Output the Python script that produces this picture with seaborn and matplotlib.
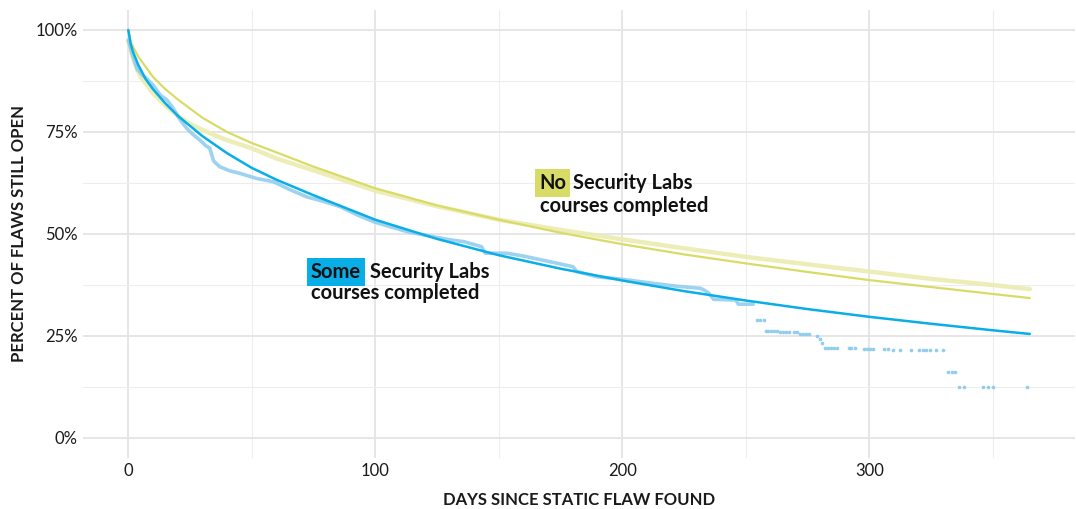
import numpy as np
import pandas as pd
import seaborn as sns
import matplotlib
matplotlib.use("Agg")
import matplotlib.pyplot as plt
from matplotlib.ticker import FixedLocator, FuncFormatter

# ---------------- data ----------------
# Fitted curve, "Some Security Labs courses completed"
some_fit_days = [0, 1, 2, 4, 7, 10, 15, 20, 30, 40, 50, 60, 75, 100, 125, 150,
                 175, 200, 225, 250, 275, 300, 325, 350, 365]
some_fit_pct = [100, 96.5, 94.5, 91.5, 88, 85.5, 82, 79, 74, 69.8, 66.2, 63.3, 59.5,
                53.5, 48.8, 44.8, 41.5, 38.6, 36, 33.7, 31.6, 29.7, 28, 26.4, 25.5]

# Fitted curve, "No Security Labs courses completed"
no_fit_days = [0, 1, 2, 4, 7, 10, 15, 20, 30, 40, 50, 60, 75, 100, 125, 150,
               175, 200, 225, 250, 275, 300, 325, 350, 365]
no_fit_pct = [100, 97, 95.8, 93.5, 91, 88.5, 85.5, 83, 78.5, 75, 72.3, 70, 66.5,
              61.2, 57, 53.5, 50.3, 47.5, 45, 42.8, 40.7, 38.7, 37, 35.3, 34.3]

# Observed share still open, "No" group
no_obs_days = [0, 1, 2, 3.5, 5, 7.5, 10, 15, 20, 25, 30, 35, 40, 50, 60, 78, 100,
               125, 150, 175, 200, 225, 250, 280, 300, 325, 350, 365]
no_obs_pct = [97.5, 95, 93, 90.5, 88.5, 86.5, 84.5, 81.5, 79, 77, 75.5, 74.2, 73,
              71, 68.5, 65, 60.6, 56.8, 53.5, 51, 48.7, 46.5, 44.4, 42.2, 40.8,
              39, 37.5, 36.5]

# Observed share still open, "Some" group (dense part)
some_obs_days = [0, 1.5, 3.5, 6, 7.6, 10, 13, 15.7, 17.7, 19, 21, 23.5, 26, 29,
                 31.5, 33, 34.5, 35.2, 37, 41, 45, 52, 58.8, 65, 72.3, 79, 85.8,
                 92.6, 99.4, 106, 112.8, 122, 130, 136, 143, 144.5, 153, 160, 170,
                 180, 181.6, 190, 200, 212.6, 222, 231.6, 233.6, 235, 237, 246,
                 247, 253]
some_obs_pct = [97.5, 94.3, 90.5, 88.8, 88, 86.5, 84, 82.8, 81.2, 80, 78, 76,
                74.5, 73, 71.6, 71, 68, 67.5, 66.5, 65.5, 64.9, 63.6, 62.8, 61,
                59.1, 58, 56.7, 54.7, 53, 51.8, 50.6, 49.5, 48.6, 48.1, 46.9,
                45.3, 45.3, 44.6, 43.3, 42, 40.8, 39.5, 38.9, 37.9, 37.2, 36.7,
                36.1, 35.5, 34, 33.8, 32.8, 32.8]

# Observed share still open, "Some" group (sparse tail, single dots)
some_tail_days = [254.5, 255.8, 257.2, 258, 259.2, 260.4, 261.6, 262.6, 264,
                  265.2, 266.4, 267.4, 269.5, 270.7, 271.9, 273.1, 274.3, 275.5,
                  278.8, 279.9, 281, 282, 283.2, 284.4, 285.6, 286.8, 291.6,
                  292.8, 294.4, 297.7, 299, 300.4, 301.6, 305.8, 307.4, 309.8,
                  312.6, 317, 320, 321.6, 323, 324.7, 327, 329.7, 332, 333.4,
                  334.8, 336.2, 338.2, 346, 348, 350, 363.8]
some_tail_pct = [28.8, 28.8, 28.8, 26.3, 26.3, 26.3, 26.3, 26.3, 26.0, 26.0,
                 26.0, 26.0, 25.9, 25.9, 25.4, 25.4, 25.4, 25.4, 25.1, 24.2,
                 23.2, 22.1, 22.1, 22.1, 22.1, 22.1, 22.0, 22.0, 22.0, 21.8,
                 21.8, 21.8, 21.8, 21.7, 21.7, 21.6, 21.6, 21.6, 21.6, 21.6,
                 21.6, 21.6, 21.6, 21.6, 16.1, 16.1, 16.1, 12.6, 12.6, 12.6,
                 12.6, 12.6, 12.6]

x_major = [0, 100, 200, 300]
x_minor = [50, 150, 250, 350]
y_major = [0, 25, 50, 75, 100]
y_minor = [12.5, 37.5, 62.5, 87.5]

BLUE = "#0aaee6"
BLUE_LIGHT = "#8ccbee"
YELLOW = "#d9db67"
YELLOW_LIGHT = "#ebecb0"

# ---------------- figure ----------------
sns.set_theme(style="white")
plt.rcParams["font.family"] = ["Lato", "DejaVu Sans"]

fig = plt.figure(figsize=(10.76, 5.09), dpi=100)
ax = fig.add_axes([83.2 / 1076, 1 - 458.4 / 509, 991.7 / 1076, 448.8 / 509])

sns.lineplot(x=no_obs_days, y=no_obs_pct, ax=ax, color=YELLOW_LIGHT, alpha=0.9,
             linewidth=3.2, solid_capstyle="round", zorder=3)
sns.lineplot(x=some_obs_days, y=some_obs_pct, ax=ax, color=BLUE_LIGHT, alpha=0.85,
             linewidth=2.6, solid_capstyle="round", zorder=3)
sns.scatterplot(x=some_tail_days, y=some_tail_pct, ax=ax, color=BLUE_LIGHT, alpha=0.95,
                s=7, linewidth=0, zorder=3)
sns.lineplot(x=no_fit_days, y=no_fit_pct, ax=ax, color=YELLOW, linewidth=1.6, zorder=4)
sns.lineplot(x=some_fit_days, y=some_fit_pct, ax=ax, color=BLUE, linewidth=1.8, zorder=5)

ax.set_xlim(-18.25, 383.25)
ax.set_ylim(-5, 105)

ax.xaxis.set_major_locator(FixedLocator(x_major))
ax.xaxis.set_minor_locator(FixedLocator(x_minor))
ax.yaxis.set_major_locator(FixedLocator(y_major))
ax.yaxis.set_minor_locator(FixedLocator(y_minor))
ax.yaxis.set_major_formatter(FuncFormatter(lambda v, p: f"{v:.0f}%"))

ax.grid(which="major", color="#e4e4e4", linewidth=1.3, zorder=0)
ax.grid(which="minor", color="#ededed", linewidth=0.8, zorder=0)
ax.set_axisbelow(True)
for s in ax.spines.values():
    s.set_visible(False)
ax.tick_params(axis="both", which="both", length=0, labelsize=12, labelcolor="#1a1a1a")
ax.tick_params(axis="y", pad=4)
ax.tick_params(axis="x", pad=3)

ax.set_xlabel("DAYS SINCE STATIC FLAW FOUND", fontsize=12, fontweight="bold",
              color="#1a1a1a", labelpad=10)
ax.set_ylabel("PERCENT OF FLAWS STILL OPEN", fontsize=12, fontweight="bold",
              color="#1a1a1a", labelpad=6)

# ---------------- annotations ----------------
tkw = dict(fontsize=14.5, fontweight="bold", color="#111111", va="baseline", ha="left", zorder=6)
ax.text(166.4, 61.0, "No", bbox=dict(boxstyle="square,pad=0.2", fc=YELLOW, ec="none"), **tkw)
ax.text(180.2, 61.0, "Security Labs", **tkw)
ax.text(166.8, 55.3, "courses completed", **tkw)

ax.text(74.0, 39.1, "Some", bbox=dict(boxstyle="square,pad=0.2", fc=BLUE, ec="none"), **tkw)
ax.text(98.0, 39.1, "Security Labs", **tkw)
ax.text(74.1, 34.0, "courses completed", **tkw)

fig.savefig("out.png", dpi=100, facecolor="white")
